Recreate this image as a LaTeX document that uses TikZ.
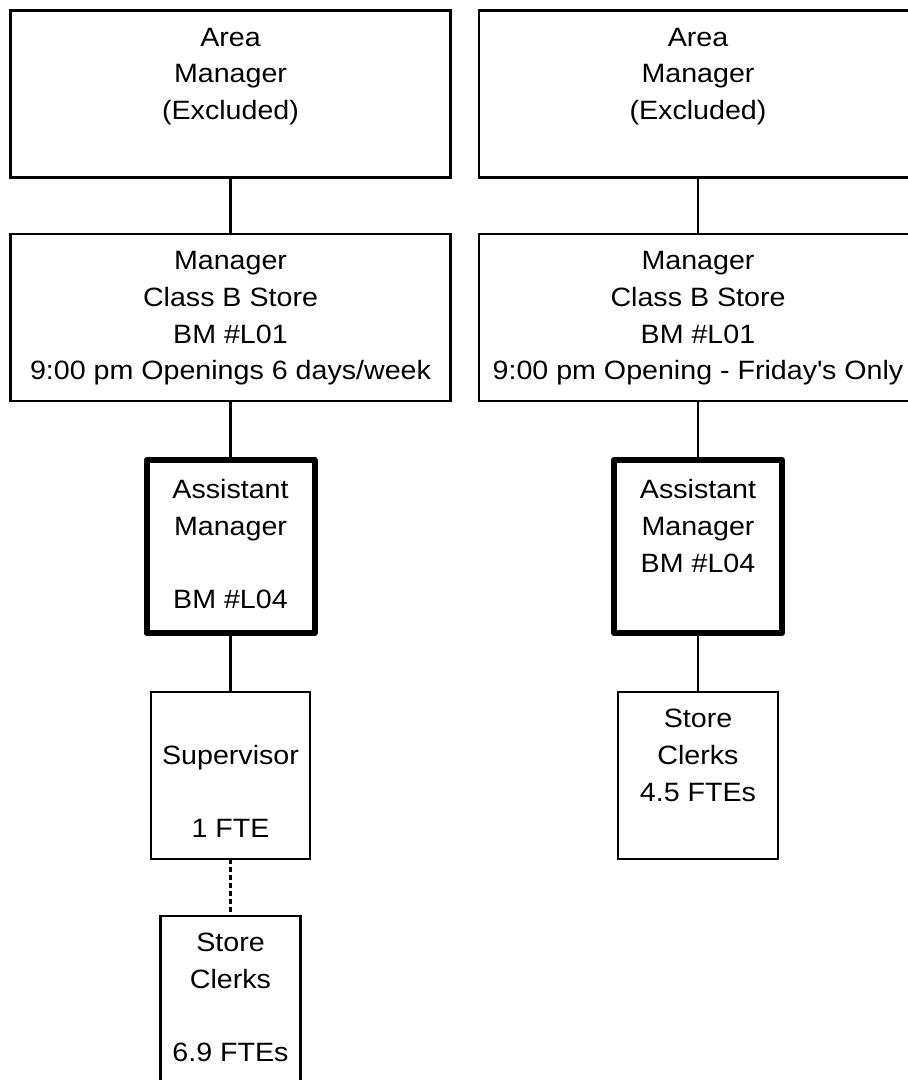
\documentclass[tikz,border=0pt]{standalone}
\usepackage{fontspec}
\setmainfont{Liberation Sans}[FakeStretch=1.08]
\newcommand\chartfont{\fontsize{26.5}{36.7}\selectfont}
\tikzset{
  unit/.style={draw=black, line width=2.2pt, inner sep=0pt, outer sep=0pt,
    align=center, font=\chartfont, minimum width=#1},
  lead/.style={unit=#1, line width=6pt, line join=round},
  link/.style={draw=black, line width=2.2pt},
}
\begin{document}
\begin{tikzpicture}[x=1pt, y=-1pt]
  \useasboundingbox (0,0) rectangle (908,1080);
  \clip (0,0) rectangle (908,1080);
  \fill[white] (0,0) rectangle (908,1080);

  % left branch
  \node[unit=440, minimum height=167] (am1) at (230.5,94)
    {\strut Area\\\strut Manager\\\strut (Excluded)\\\strut};
  \node[unit=440, minimum height=167] (mg1) at (230.5,317.5)
    {\strut Manager\\\strut Class B Store\\\strut BM \#L01\\\strut 9:00 pm Openings 6 days/week};
  \node[lead=168, minimum height=173] (as1) at (230.5,546.5)
    {\strut Assistant\\\strut Manager\\\strut\\\strut BM \#L04};
  \node[unit=159, minimum height=167] (sup) at (230.5,775.5)
    {\strut\\\strut Supervisor\\\strut\\\strut 1 FTE};
  \node[unit=140, minimum height=167] (cl1) at (230.5,999.5)
    {\strut Store\\\strut Clerks\\\strut\\\strut 6.9 FTEs};

  % right branch
  \node[unit=438, minimum height=167] (am2) at (698,94)
    {\strut Area\\\strut Manager\\\strut (Excluded)\\\strut};
  \node[unit=438, minimum height=167] (mg2) at (698,317.5)
    {\strut Manager\\\strut Class B Store\\\strut BM \#L01\\\strut 9:00 pm Opening - Friday\textquotesingle s Only};
  \node[lead=168, minimum height=173] (as2) at (698,546.5)
    {\strut Assistant\\\strut Manager\\\strut BM \#L04\\\strut};
  \node[unit=160, minimum height=167] (cl2) at (698,775.5)
    {\strut Store\\\strut Clerks\\\strut 4.5 FTEs\\\strut};

  % reporting lines
  \draw[link] (am1.south) -- (mg1.north);
  \draw[link] (mg1.south) -- (as1.north);
  \draw[link] (as1.south) -- (sup.north);
  \draw[link, dash pattern=on 5pt off 3pt] (sup.south) -- (cl1.north);
  \draw[link] (am2.south) -- (mg2.north);
  \draw[link] (mg2.south) -- (as2.north);
  \draw[link] (as2.south) -- (cl2.north);
\end{tikzpicture}
\end{document}
